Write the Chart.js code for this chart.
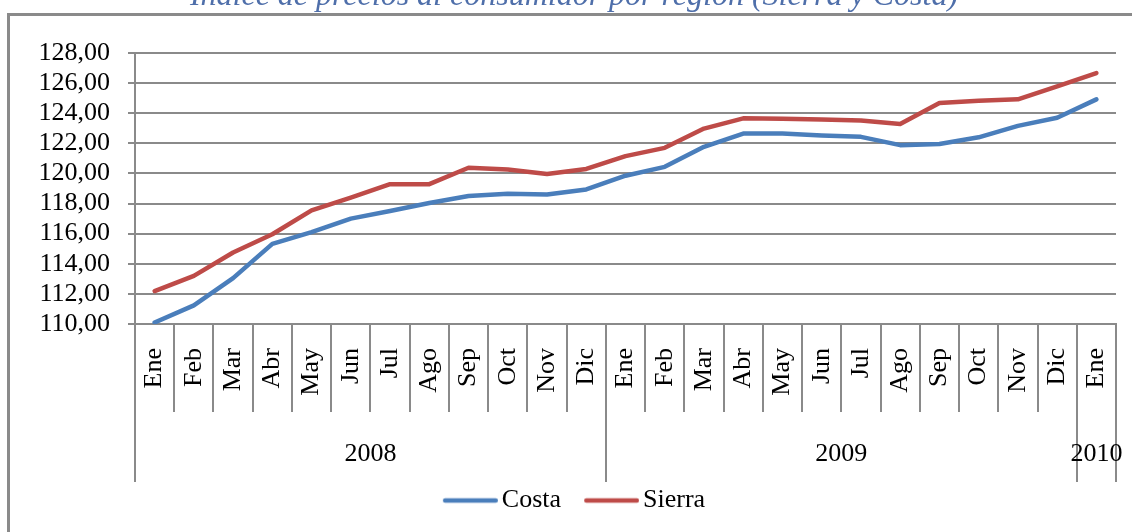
<!DOCTYPE html>
<html>
<head>
<meta charset="utf-8">
<script src="https://cdn.jsdelivr.net/npm/chart.js@4/dist/chart.umd.min.js"></script>
<style>
  html, body { margin: 0; padding: 0; background: #fff; }
  #wrap { position: relative; width: 1132px; height: 532px; overflow: hidden; }
  #frame { position: absolute; left: 7px; top: 13px; width: 1300px; height: 700px; border: 3px solid #8a8a8a; }
  #chart { position: absolute; left: 0; top: -40px; }
</style>
</head>
<body>
<div id="wrap">
  <div id="frame"></div>
  <canvas id="chart" width="1132" height="572"></canvas>
</div>
<script>
const months = ['Ene', 'Feb', 'Mar', 'Abr', 'May', 'Jun', 'Jul', 'Ago', 'Sep', 'Oct', 'Nov', 'Dic',
  'Ene', 'Feb', 'Mar', 'Abr', 'May', 'Jun', 'Jul', 'Ago', 'Sep', 'Oct', 'Nov', 'Dic',
  'Ene'];
const years = ['2008', '2009', '2010'];
const yearSpans = [12, 12, 1]; // months in each year group

const costa = [110.10, 111.24, 113.05, 115.32, 116.10, 117.00, 117.50, 118.04, 118.50, 118.65, 118.60, 118.94,
  119.85, 120.44, 121.77, 122.65, 122.65, 122.52, 122.43, 121.88, 121.96, 122.40, 123.16, 123.70,
  124.92];
const sierra = [112.19, 113.20, 114.75, 115.96, 117.55, 118.39, 119.29, 119.29, 120.38, 120.26, 119.96, 120.30,
  121.15, 121.70, 122.98, 123.66, 123.64, 123.58, 123.51, 123.29, 124.68, 124.83, 124.92, 125.78,
  126.67];

const yMin = 110, yMax = 128, yStep = 2;

const serif = "'Liberation Serif', 'Times New Roman', serif";
const gridGray = '#8a8a8a';
const blue = '#4A7EBB';
const red = '#BE4B48';

// year group boundaries and centres on the month index scale
const yearTicks = [];
let start = 0;
yearSpans.forEach((n, i) => {
  yearTicks.push({ value: start - 0.5, label: '' });
  yearTicks.push({ value: start + (n - 1) / 2, label: years[i] });
  start += n;
});
yearTicks.push({ value: start - 0.5, label: '' });

// legend sample: a short thick line, drawn a bit wider than the legend box
// so the gap to the text stays small like in the original
function lineSample(color) {
  const c = document.createElement('canvas');
  c.width = 64;
  c.height = 8;
  const g = c.getContext('2d');
  g.strokeStyle = color;
  g.lineWidth = 4.5;
  g.lineCap = 'round';
  g.beginPath();
  g.moveTo(11.25, 4);
  g.lineTo(61.75, 4);
  g.stroke();
  return c;
}

new Chart(document.getElementById('chart'), {
  type: 'line',
  data: {
    labels: months,
    datasets: [
      {
        label: 'Costa',
        data: costa,
        borderColor: blue,
        backgroundColor: blue,
        borderWidth: 4.5,
        borderCapStyle: 'round',
        borderJoinStyle: 'round',
        pointRadius: 0,
        pointStyle: lineSample(blue),
        tension: 0,
      },
      {
        label: 'Sierra',
        data: sierra,
        borderColor: red,
        backgroundColor: red,
        borderWidth: 4.5,
        borderCapStyle: 'round',
        borderJoinStyle: 'round',
        pointRadius: 0,
        pointStyle: lineSample(red),
        tension: 0,
      },
    ],
  },
  options: {
    responsive: false,
    animation: false,
    layout: {
      padding: { left: 32, right: 16, top: 0, bottom: 8.5 },
    },
    plugins: {
      title: {
        display: true,
        text: 'Índice de precios al consumidor por región (Sierra y Costa)',
        color: '#4F6FAA',
        font: { family: serif, size: 32, style: 'italic', weight: 'normal' },
        padding: { top: 17, bottom: 37.6 },
      },
      legend: {
        position: 'bottom',
        labels: {
          color: '#000',
          font: { family: serif, size: 26 },
          usePointStyle: true,
          pointStyleWidth: 46,
          padding: 23,
        },
      },
      tooltip: { enabled: false },
    },
    scales: {
      x: {
        type: 'category',
        weight: 0,
        offset: true,
        grid: {
          offset: true,
          drawOnChartArea: false,
          tickLength: 88,
          color: gridGray,
          lineWidth: 2,
        },
        border: { display: true, color: gridGray, width: 2 },
        ticks: {
          autoSkip: false,
          minRotation: 90,
          maxRotation: 90,
          padding: -64,
          color: '#000',
          font: { family: serif, size: 26 },
        },
        afterFit: (scale) => { scale.height = 88; },
      },
      x2: {
        type: 'linear',
        position: 'bottom',
        weight: 1,
        min: -0.5,
        max: months.length - 0.5,
        grid: {
          drawOnChartArea: false,
          tickLength: 70,
          lineWidth: 2,
          color: (ctx) => (ctx.tick && ctx.tick.label !== '' ? 'rgba(0,0,0,0)' : gridGray),
        },
        border: { display: false },
        afterBuildTicks: (scale) => {
          scale.ticks = yearTicks.map(t => ({ value: t.value }));
        },
        ticks: {
          autoSkip: false,
          minRotation: 0,
          maxRotation: 0,
          padding: -43,
          color: '#000',
          font: { family: serif, size: 26 },
          callback: (value) => {
            const t = yearTicks.find(t => t.value === value);
            return t ? t.label : '';
          },
        },
        afterFit: (scale) => { scale.height = 52.5; },
      },
      y: {
        min: yMin,
        max: yMax,
        grid: {
          color: gridGray,
          lineWidth: 2,
          tickLength: 7,
        },
        border: { display: true, color: gridGray, width: 2 },
        ticks: {
          stepSize: yStep,
          autoSkip: false,
          padding: 18,
          color: '#000',
          font: { family: serif, size: 26 },
          callback: (value) => value.toFixed(2).replace('.', ','),
        },
        afterFit: (scale) => { scale.width = 103; },
      },
    },
  },
});
</script>
</body>
</html>
